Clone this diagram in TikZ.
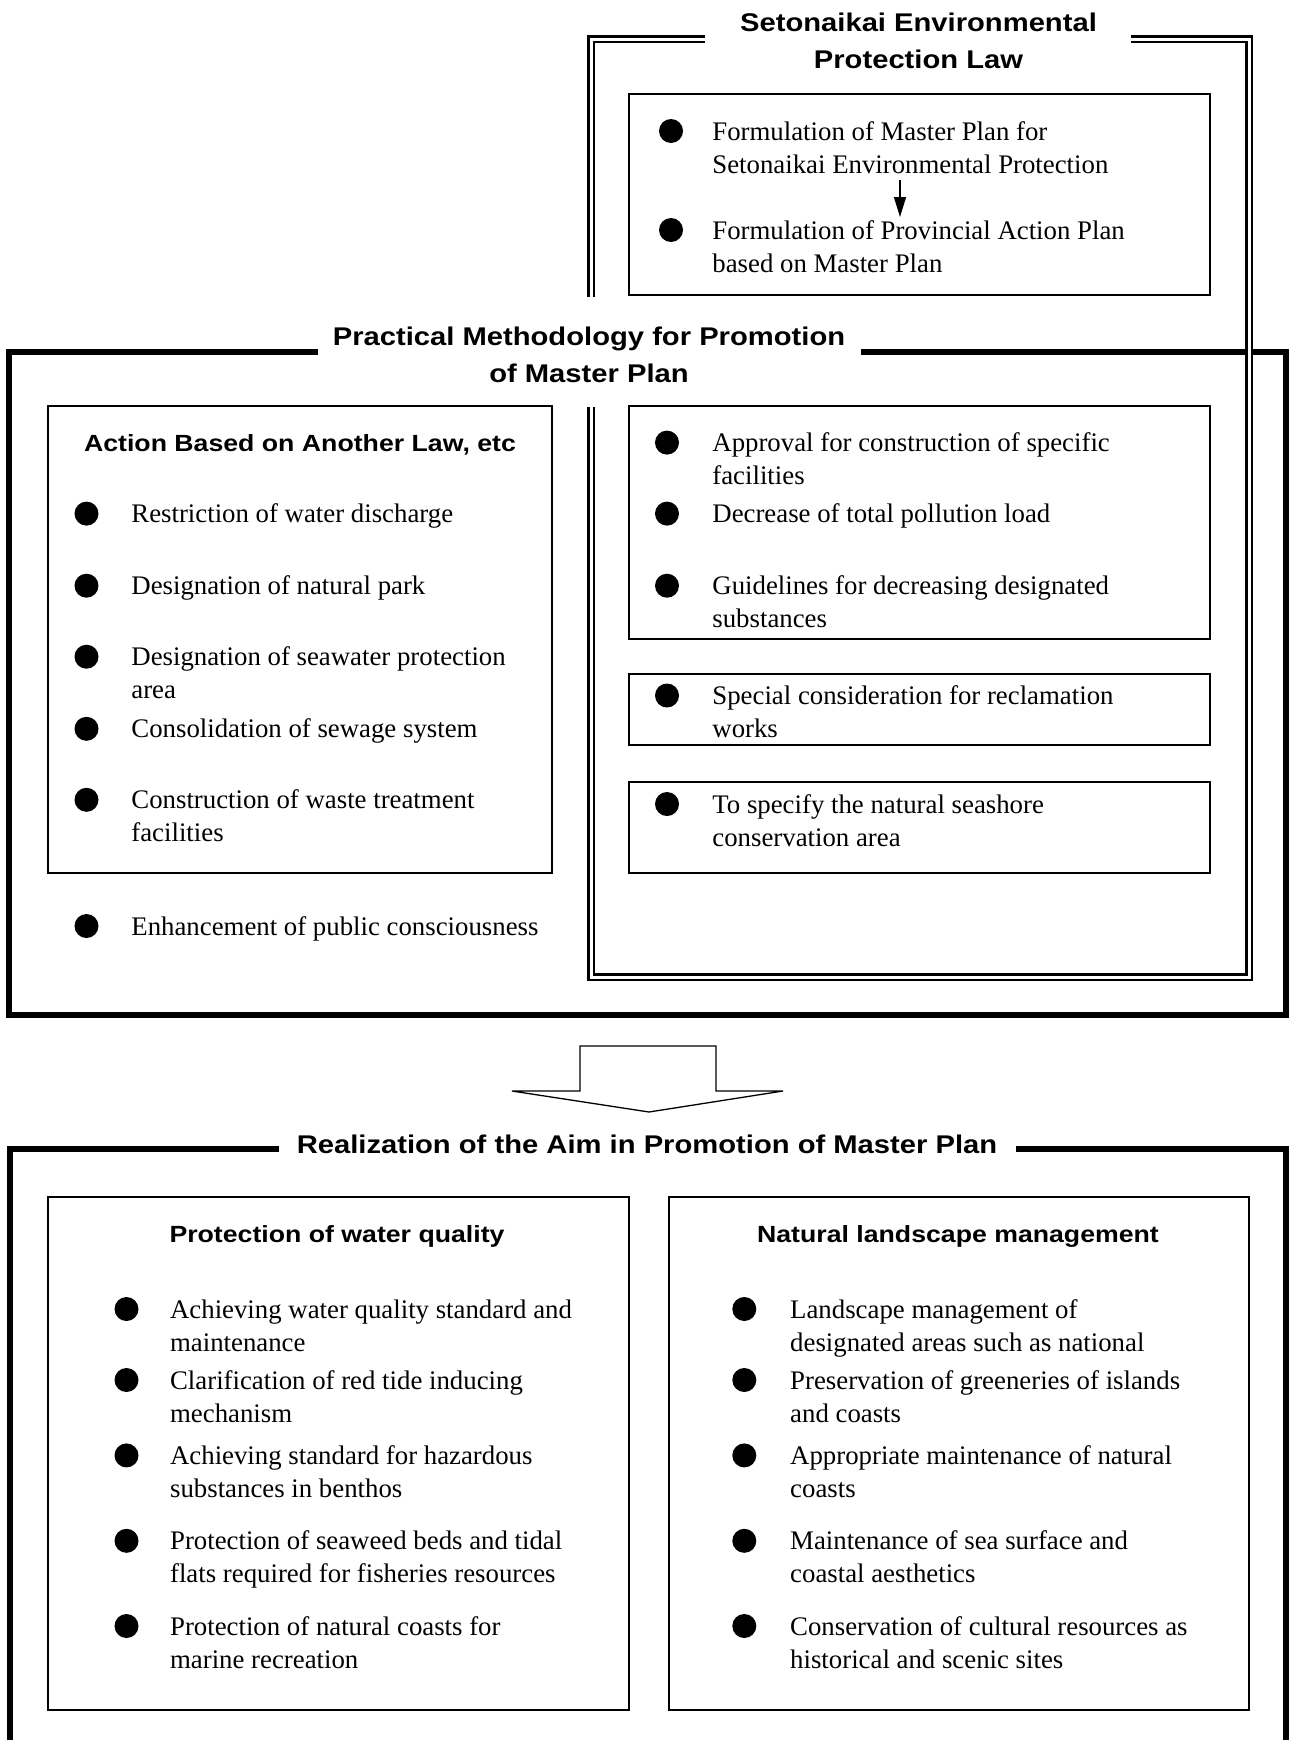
\documentclass[tikz,border=0pt]{standalone}
\usepackage{fontspec}
\setmainfont{Liberation Serif}
\newfontfamily\hdfont[FakeStretch=1.14]{Liberation Sans}
\usetikzlibrary{arrows.meta}

% bullet point with one line of text: name, bullet x, text x, row y, text
\newcommand{\bulletrow}[5]{%
  \node[bul] (#1b) at (#2,#4) {};
  \node[txt] (#1) at (#3,#4+9) {#5};
}
% bullet point with two lines of text (anchored on the last baseline)
\newcommand{\bulletpair}[5]{%
  \node[bul] (#1b) at (#2,#4) {};
  \node[txt] (#1) at (#3,#4+42) {#5};
}

\begin{document}
\begin{tikzpicture}[x=0.5pt,y=-0.5pt,
  txt/.style={anchor=base west,align=left,inner sep=0pt,
    font=\fontsize{13.4}{16.5}\selectfont},
  bul/.style={circle,fill=black,draw=none,inner sep=0pt,minimum size=12pt},
  title/.style={anchor=base,align=center,inner sep=0pt,
    font=\hdfont\bfseries\fontsize{12.8}{18.5}\selectfont},
  subhead/.style={anchor=base,align=center,inner sep=0pt,
    font=\hdfont\bfseries\fontsize{11.7}{14}\selectfont},
  box/.style={draw,line width=0.8pt},
  heavy/.style={draw,line width=3pt,line join=miter},
  twin/.style={draw,double,line width=1.3pt,double distance=1.5pt,line join=miter},
]
\useasboundingbox (0,0) rectangle (1289,1740);

% ---------- practical methodology frame ----------
\draw[heavy] (318,352) -- (9,352) -- (9,1015) -- (1286,1015) -- (1286,352) -- (861,352);

% ---------- law frame (double line) ----------
\draw[twin] (705,39) -- (591,39) -- (591,297);
\draw[twin] (591,407) -- (591,977) -- (1249,977) -- (1249,39) -- (1131,39);

\node[title] (lawtitle) at (918.5,68.5) {Setonaikai Environmental\\Protection Law};
\node[title] (practitle) at (589,382) {Practical Methodology for Promotion\\of Master Plan};

% master plan box
\draw[box] (629,94) rectangle (1210,295);
\bulletpair{mp}{671}{712}{131}{Formulation of Master Plan for\\Setonaikai Environmental Protection}
\bulletpair{pp}{671}{712}{230}{Formulation of Provincial Action Plan\\based on Master Plan}
\coordinate (arrtop) at (900,180);
\coordinate (arrbot) at (900,217);
\draw[line width=0.7pt,-{Triangle[length=10pt,width=6pt]}] (arrtop) -- (arrbot);

% action based on another law
\draw[box] (48,406) rectangle (552,873);
\node[subhead] (acthead) at (300,451) {Action Based on Another Law, etc};
\bulletrow{a1}{86.5}{131}{513.6}{Restriction of water discharge}
\bulletrow{a2}{86.5}{131}{585.7}{Designation of natural park}
\bulletpair{a3}{86.5}{131}{656.7}{Designation of seawater protection\\area}
\bulletrow{a4}{86.5}{131}{728.8}{Consolidation of sewage system}
\bulletpair{a5}{86.5}{131}{799.8}{Construction of waste treatment\\facilities}
\bulletrow{a6}{86.5}{131}{926}{Enhancement of public consciousness}

% measures under the law
\draw[box] (629,406) rectangle (1210,639);
\bulletpair{l1}{667}{712}{442.6}{Approval for construction of specific\\facilities}
\bulletrow{l2}{667}{712}{513.6}{Decrease of total pollution load}
\bulletpair{l3}{667}{712}{585.7}{Guidelines for decreasing designated\\substances}
\draw[box] (629,674) rectangle (1210,745);
\bulletpair{l4}{667}{712}{695.5}{Special consideration for reclamation\\works}
\draw[box] (629,782) rectangle (1210,873);
\bulletpair{l5}{667}{712}{804}{To specify the natural seashore\\conservation area}

% ---------- block arrow ----------
\draw[line width=0.65pt,line join=miter]
  (580,1046) -- (716,1046) -- (716,1091) -- (783,1091) -- (649,1112)
  -- (512,1091) -- (580,1091) -- cycle;

% ---------- realization frame ----------
\draw[heavy] (279,1149) -- (10,1149) -- (10,1740);
\draw[heavy] (1016,1149) -- (1286,1149) -- (1286,1740);
\node[title] (realtitle) at (647,1153) {Realization of the Aim in Promotion of Master Plan};

% water quality
\draw[box] (48,1197) rectangle (629,1710);
\node[subhead] (wqhead) at (337,1242) {Protection of water quality};
\bulletpair{w1}{126.5}{169.7}{1309}{Achieving water quality standard and\\maintenance}
\bulletpair{w2}{126.5}{169.7}{1380}{Clarification of red tide inducing\\mechanism}
\bulletpair{w3}{126.5}{169.7}{1455.4}{Achieving standard for hazardous\\substances in benthos}
\bulletpair{w4}{126.5}{169.7}{1540.8}{Protection of seaweed beds and tidal\\flats required for fisheries resources}
\bulletpair{w5}{126.5}{169.7}{1626}{Protection of natural coasts for\\marine recreation}

% landscape
\draw[box] (669,1197) rectangle (1249,1710);
\node[subhead] (nlhead) at (958,1242) {Natural landscape management};
\bulletpair{n1}{744.3}{789.8}{1309}{Landscape management of\\designated areas such as national}
\bulletpair{n2}{744.3}{789.8}{1380}{Preservation of greeneries of islands\\and coasts}
\bulletpair{n3}{744.3}{789.8}{1455.4}{Appropriate maintenance of natural\\coasts}
\bulletpair{n4}{744.3}{789.8}{1540.8}{Maintenance of sea surface and\\coastal aesthetics}
\bulletpair{n5}{744.3}{789.8}{1626}{Conservation of cultural resources as\\historical and scenic sites}
\end{tikzpicture}
\end{document}
